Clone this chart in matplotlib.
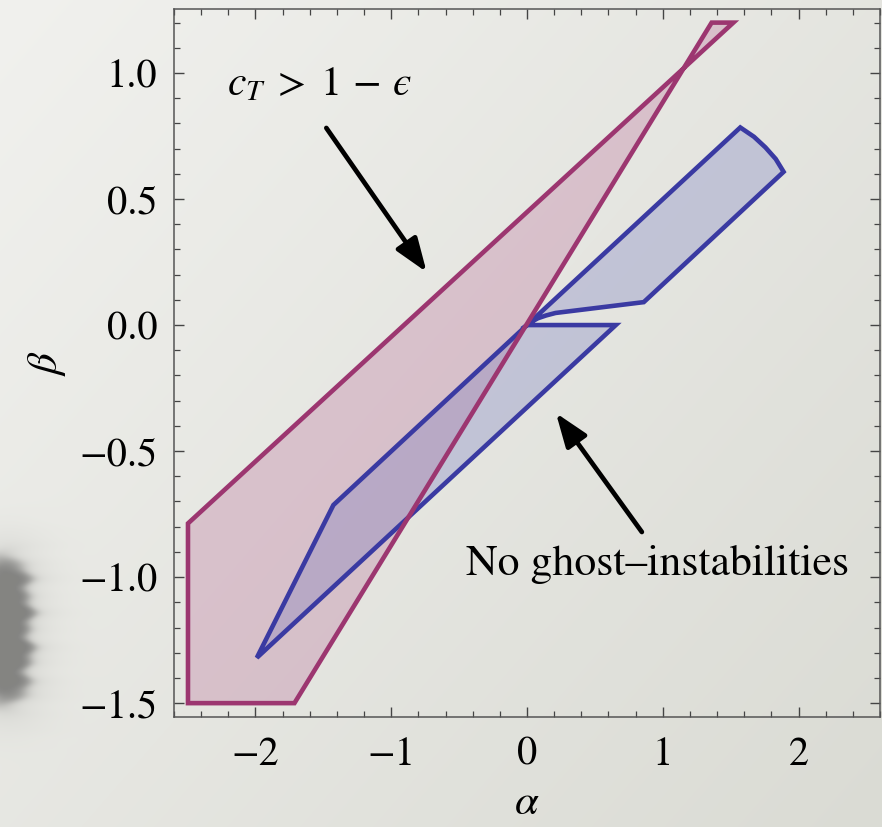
import numpy as np
import matplotlib
matplotlib.use("Agg")
import matplotlib.pyplot as plt
from matplotlib.patches import Polygon
from matplotlib.ticker import MultipleLocator

plt.rcParams['mathtext.fontset'] = 'stix'
plt.rcParams['font.family'] = ['STIXGeneral', 'DejaVu Serif']

# ---- data ----
pink_alpha = [-2.497, -2.497, -1.713, 1.36, 1.52]
pink_beta = [-0.787, -1.5, -1.5, 1.2, 1.2]

blue_alpha = [-1.99, -1.426, 0.0, 1.571, 1.672, 1.756, 1.832, 1.89, 0.86, 0.21, 0.14, 0.08, 0.03, 0.0, 0.654]
blue_beta = [-1.32, -0.714, 0.0, 0.784, 0.747, 0.705, 0.659, 0.608, 0.091, 0.048, 0.038, 0.027, 0.012, 0.0, 0.0]

x_ticks = [-2, -1, 0, 1, 2]
y_ticks = [-1.5, -1.0, -0.5, 0.0, 0.5, 1.0]
x_range = (-2.6, 2.6)
y_range = (-1.555, 1.254)

label_ct = '$c_T\\;>\\;1\\,-\\,\u03f5$'
label_ghost = 'No ghost–instabilities'

W, H = 882, 827
fig = plt.figure(figsize=(W / 100, H / 100), dpi=100)

# ---- background: soft paper gradient with blurred grey blob on the left ----
yy, xx = np.mgrid[0:H, 0:W]
t = (xx / W * 0.55 + yy / H * 0.45)
c0 = np.array([241, 241, 238]) / 255.0
c1 = np.array([218, 219, 212]) / 255.0
img = c0[None, None, :] * (1 - t[..., None]) + c1[None, None, :] * t[..., None]
wob = 3.0 * np.sin(yy / 6.0) + 2.0 * np.sin(yy / 2.7 + 1.0)
r = np.sqrt(((xx - 4 - wob) / 26.0) ** 2 + ((yy - 630) / 72.0) ** 4)
blob = 1.0 / (1.0 + np.exp((r - 1.0) / 0.12))
halo = np.exp(-((r / 1.6) ** 2)) * 0.22
dark = np.clip(blob * 0.85 + halo, 0, 1)
grey = np.array([132, 132, 130]) / 255.0
img = img * (1 - dark[..., None]) + grey[None, None, :] * dark[..., None]

bg = fig.add_axes([0, 0, 1, 1], zorder=-1)
bg.imshow(img, aspect='auto', interpolation='bilinear')
bg.axis('off')

# ---- main axes ----
ax = fig.add_axes([174 / W, 1 - 717 / H, (880 - 174) / W, (717 - 9) / H], zorder=1)
ax.set_facecolor('none')
ax.set_xlim(*x_range)
ax.set_ylim(*y_range)

pink_face = (185 / 255, 110 / 255, 152 / 255, 0.31)
pink_edge = '#9c3670'
blue_face = (115 / 255, 119 / 255, 191 / 255, 0.30)
blue_edge = '#3a3aa2'

ax.add_patch(Polygon(np.column_stack([pink_alpha, pink_beta]), closed=True,
                     facecolor=pink_face, edgecolor='none', zorder=2))
ax.add_patch(Polygon(np.column_stack([blue_alpha, blue_beta]), closed=True,
                     facecolor=blue_face, edgecolor='none', zorder=3))
ax.add_patch(Polygon(np.column_stack([blue_alpha, blue_beta]), closed=True,
                     facecolor='none', edgecolor=blue_edge, lw=3.3, joinstyle='miter', zorder=4))
ax.add_patch(Polygon(np.column_stack([pink_alpha, pink_beta]), closed=True,
                     facecolor='none', edgecolor=pink_edge, lw=3.3, joinstyle='miter', zorder=5))

# ---- ticks ----
ax.set_xticks(x_ticks)
ax.set_yticks(y_ticks)
ax.xaxis.set_minor_locator(MultipleLocator(0.2))
ax.yaxis.set_minor_locator(MultipleLocator(0.1))
ax.tick_params(which='both', direction='in', top=True, right=True, color='#444444')
ax.tick_params(which='major', length=7, width=1.0, labelsize=29, pad=0)
ax.tick_params(which='minor', length=4.5, width=0.9)
ax.tick_params(axis='y', which='major', pad=12)
ax.tick_params(axis='x', which='major', pad=14)
ax.set_xticklabels(['\u22122', '\u22121', '0', '1', '2'])
ax.set_yticklabels(['\u22121.5', '\u22121.0', '\u22120.5', '0.0', '0.5', '1.0'])
for s in ax.spines.values():
    s.set_color('#555555')
    s.set_linewidth(1.1)

ax.set_xlabel(r'$\alpha$', fontsize=31, labelpad=8)
ax.set_ylabel(r'$\beta$', fontsize=31, labelpad=8)

# ---- annotations ----
ax.text(-2.206, 0.913, label_ct, fontsize=30, ha='left', va='baseline', zorder=6)
ax.text(0.963, -0.992, label_ghost, fontsize=31.5, ha='center', va='baseline', zorder=6)

arrow_kw = dict(arrowstyle='-|>,head_length=0.6,head_width=0.22', lw=3.4, color='black',
                mutation_scale=34, shrinkA=0, shrinkB=0)
ax.annotate('', xy=(-0.739, 0.210), xytext=(-1.478, 0.782), arrowprops=arrow_kw, zorder=6)
ax.annotate('', xy=(0.213, -0.349), xytext=(0.846, -0.821), arrowprops=arrow_kw, zorder=6)

fig.savefig('out.png', dpi=100)
